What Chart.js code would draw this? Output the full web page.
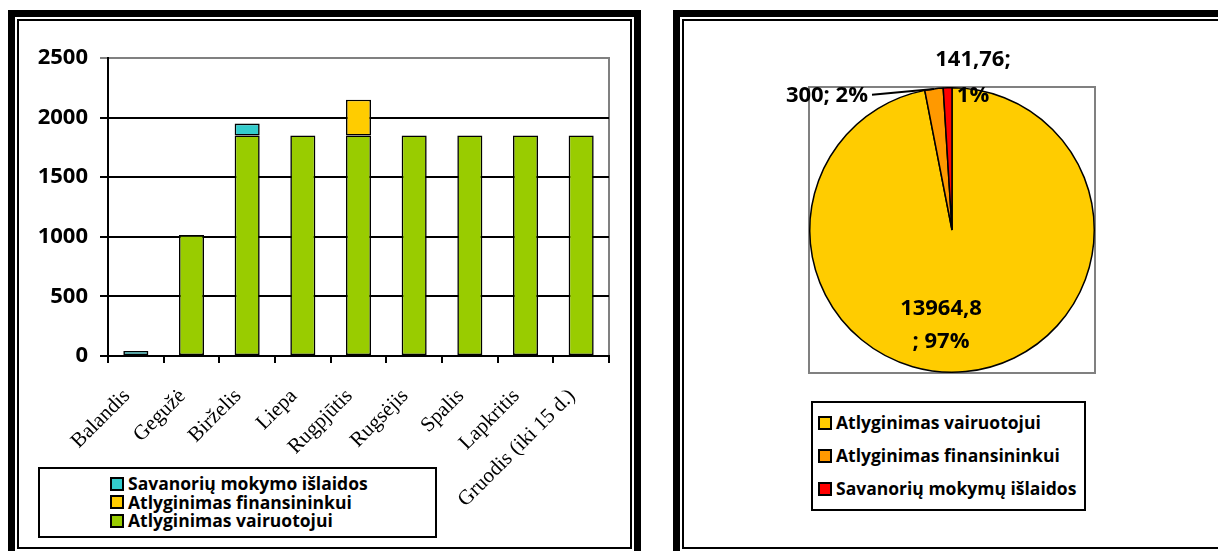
<!DOCTYPE html>
<html>
<head>
<meta charset="utf-8">
<script src="https://cdn.jsdelivr.net/npm/chart.js@4"></script>
<style>
  body { margin: 0; background: #fff; width: 1218px; height: 551px; overflow: hidden; position: relative; font-family: "Open Sans", sans-serif; }
  .panel { position: absolute; box-sizing: border-box; border: 7px solid #000; background: #fff; }
  .panel .inner { position: absolute; left: 2px; top: 2px; right: 2px; bottom: 2px; border: 2px solid #000; }
  #leftPanel { left: 8px; top: 10px; width: 633px; height: 548px; }
  #rightPanel { left: 673px; top: 10px; width: 560px; height: 548px; }
  #barChart { position: absolute; left: 0; top: 0; }
  #pieChart { position: absolute; left: 686px; top: 0; }
  .legend { position: absolute; box-sizing: border-box; border: 2px solid #000; background: #fff; font-weight: bold; font-size: 17.5px; color: #000; }
  .legend .item { position: absolute; white-space: nowrap; }
  .legend .sw { display: inline-block; width: 10px; height: 10px; border: 2px solid #000; vertical-align: middle; margin: -3px 4px 0 0; }
  #barLegend { left: 38px; top: 467px; width: 399px; height: 71px; }
  #pieLegend { left: 811px; top: 401px; width: 275px; height: 110px; }
</style>
</head>
<body>
<div class="panel" id="leftPanel"><div class="inner"></div></div>
<div class="panel" id="rightPanel"><div class="inner"></div></div>
<canvas id="barChart" width="650" height="551"></canvas>
<canvas id="pieChart" width="532" height="551"></canvas>
<div class="legend" id="barLegend"></div>
<div class="legend" id="pieLegend"></div>
<script>
// bar chart data
const months = ['Balandis', 'Gegužė', 'Birželis', 'Liepa', 'Rugpjūtis', 'Rugsėjis', 'Spalis', 'Lapkritis', 'Gruodis (iki 15 d.)']
const vairuotojui = [0, 1014.8, 1850, 1850, 1850, 1850, 1850, 1850, 1850]
const finansininkui = [0, 0, 0, 0, 300, 0, 0, 0, 0]
const savanoriuMokymo = [41.76, 0, 100, 0, 0, 0, 0, 0, 0]
const yTicks = [0, 500, 1000, 1500, 2000, 2500]

// pie chart data
const pieLabels = ['Atlyginimas vairuotojui', 'Atlyginimas finansininkui', 'Savanorių mokymų išlaidos']
const pieValues = [13964.8, 300, 141.76]

const green = '#99CC00', yellow = '#FFCC00', cyan = '#33CCCC'
const pieColors = ['#FFCC00', '#FF9900', '#FF0000']

function buildLegend(el, labels, colors, rowH, top, left) {
    labels.forEach((t, i) => {
        const d = document.createElement('div')
        d.className = 'item'
        d.style.top = (top + i * rowH) + 'px'
        d.style.left = left + 'px'
        d.style.height = rowH + 'px'
        d.style.lineHeight = rowH + 'px'
        const sw = document.createElement('span')
        sw.className = 'sw'
        sw.style.background = colors[i]
        d.appendChild(sw)
        d.appendChild(document.createTextNode(t))
        el.appendChild(d)
    })
}

const nz = arr => arr.map(v => v === 0 ? null : v)

const plotBox = {
    id: 'plotBox',
    beforeDraw(chart) {
        const a = chart.chartArea, ctx = chart.ctx
        ctx.save()
        ctx.strokeStyle = '#808080'
        ctx.lineWidth = 2
        ctx.strokeRect(a.left, a.top, a.right - a.left, a.bottom - a.top)
        ctx.restore()
    }
}

const barStyle = { borderColor: '#000', borderWidth: 1.6, borderSkipped: false, barPercentage: 0.45, categoryPercentage: 1 }

new Chart(document.getElementById('barChart'), {
    type: 'bar',
    data: {
        labels: months,
        datasets: [
            Object.assign({ label: 'Atlyginimas vairuotojui', data: nz(vairuotojui), backgroundColor: green }, barStyle),
            Object.assign({ label: 'Atlyginimas finansininkui', data: nz(finansininkui), backgroundColor: yellow }, barStyle),
            Object.assign({ label: 'Savanorių mokymo išlaidos', data: nz(savanoriuMokymo), backgroundColor: cyan }, barStyle)
        ]
    },
    options: {
        responsive: false,
        animation: false,
        devicePixelRatio: 1,
        layout: { padding: { left: 0, right: 41, top: 58, bottom: 0 } },
        plugins: { legend: { display: false }, tooltip: { enabled: false } },
        scales: {
            x: {
                stacked: true,
                offset: true,
                afterFit: s => { s.height = 195 },
                grid: { offset: true, drawOnChartArea: false, tickLength: 7, color: '#000', lineWidth: 2 },
                border: { color: '#000', width: 2 },
                ticks: { autoSkip: false, maxRotation: 45, minRotation: 45, padding: 21, labelOffset: -9, color: '#000', font: { family: 'Liberation Serif', size: 21 } }
            },
            y: {
                stacked: true,
                min: 0,
                max: 2500,
                afterFit: s => { s.width = 108 },
                afterBuildTicks: s => { s.ticks = yTicks.map(v => ({ value: v })) },
                grid: { tickLength: 8, lineWidth: 2, color: c => c.tick && c.tick.value === 2500 ? '#808080' : '#000' },
                border: { color: '#000', width: 2 },
                ticks: { padding: 12, color: '#000', callback: v => String(v), font: { family: 'Open Sans', size: 22, weight: 'bold' } }
            }
        }
    },
    plugins: [plotBox]
})

const total = pieValues.reduce((a, b) => a + b, 0)
const fmt = v => String(v).replace('.', ',')
const pct = v => Math.round(v / total * 100) + '%'

const pieLabelsPlugin = {
    id: 'pieLabels',
    afterDatasetsDraw(chart) {
        const arcs = chart.getDatasetMeta(0).data
        const ctx = chart.ctx
        const cx = arcs[0].x, cy = arcs[0].y, r = arcs[0].outerRadius
        ctx.save()
        ctx.fillStyle = '#000'
        ctx.font = 'bold 22px "Open Sans"'
        ctx.textBaseline = 'middle'
        ctx.textAlign = 'center'
        // main slice
        ctx.fillText(fmt(pieValues[0]), cx - 11, cy + 0.55 * r)
        ctx.fillText('; ' + pct(pieValues[0]), cx - 11, cy + 0.785 * r)
        // red slice
        ctx.fillText(fmt(pieValues[2]) + ';', cx + 21, cy - r - 28)
        ctx.fillText(pct(pieValues[2]), cx + 21, cy - r + 8)
        // orange slice with leader line
        ctx.textAlign = 'right'
        ctx.fillText(fmt(pieValues[1]) + '; ' + pct(pieValues[1]), cx - 84, cy - r + 8)
        const a1 = arcs[1]
        const mid = (a1.startAngle + a1.endAngle) / 2
        ctx.strokeStyle = '#000'
        ctx.lineWidth = 2
        ctx.beginPath()
        ctx.moveTo(cx - 80, cy - r + 7)
        ctx.lineTo(cx + r * Math.cos(mid), cy + r * Math.sin(mid))
        ctx.stroke()
        ctx.restore()
    }
}

new Chart(document.getElementById('pieChart'), {
    type: 'pie',
    data: {
        labels: pieLabels,
        datasets: [{ data: pieValues, backgroundColor: pieColors, borderColor: '#000', borderWidth: 1.5 }]
    },
    options: {
        responsive: false,
        animation: false,
        devicePixelRatio: 1,
        layout: { padding: { left: 123, right: 123, top: 87, bottom: 178 } },
        plugins: { legend: { display: false }, tooltip: { enabled: false } }
    },
    plugins: [plotBox, pieLabelsPlugin]
})

buildLegend(document.getElementById('barLegend'), ['Savanorių mokymo išlaidos', 'Atlyginimas finansininkui', 'Atlyginimas vairuotojui'], [cyan, yellow, green], 18.5, 5, 70)
buildLegend(document.getElementById('pieLegend'), pieLabels, pieColors, 33, 3, 5)
</script>
</body>
</html>
